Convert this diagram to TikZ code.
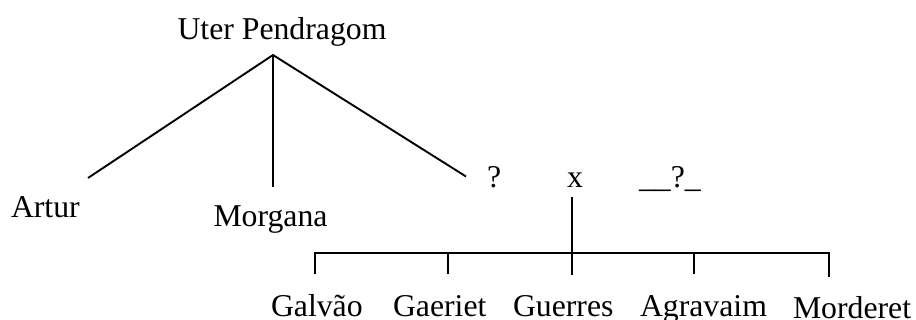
\documentclass[tikz,border=0pt]{standalone}
\usepackage{fontspec}
\setmainfont{Liberation Serif}
\begin{document}
\begin{tikzpicture}[x=1pt,y=-1pt,
  lbl/.style={anchor=base west,inner sep=0pt,outer sep=0pt,font=\fontsize{31.75}{38}\selectfont},
  link/.style={line width=1.9pt,line cap=butt,line join=miter}]
\useasboundingbox (0,0) rectangle (916,320);
% labels
\node[lbl] (uter) at (177.5,39.3) {Uter Pendragom};
\node[lbl] (artur) at (11,217.5) {Artur};
\node[lbl] (morgana) at (213.5,226.8) {Morgana};
\node[lbl] (q) at (487,188) {?};
\node[lbl] (x) at (567,188) {x};
\node[lbl] (q2) at (639,188) {\_\_?\_};
\node[lbl] (galvao) at (271,317) {Galvão};
\node[lbl] (gaeriet) at (393,317) {Gaeriet};
\node[lbl] (guerres) at (513,317) {Guerres};
\node[lbl] (agravaim) at (640,317) {Agravaim};
\node[lbl] (morderet) at (793,319) {Morderet};
% connector points
\coordinate (apex) at (273,55);
\coordinate (arturEnd) at (88,178);
\coordinate (morganaEnd) at (273,187);
\coordinate (qEnd) at (466,176.5);
\coordinate (xTop) at (572,197);
\coordinate (barL) at (315,253);
\coordinate (barR) at (829,253);
\coordinate (tGal) at (315,274);
\coordinate (tGae) at (448,274);
\coordinate (tGue) at (572,275);
\coordinate (tAgr) at (694,274);
\coordinate (tMor) at (829,277);
\coordinate (bGae) at (448,253);
\coordinate (bAgr) at (694,253);
% connectors
\draw[link] (arturEnd) -- (apex) -- (qEnd);
\draw[link] (apex) -- (morganaEnd);
\draw[link] (tGal) -- (barL) -- (barR) -- (tMor);
\draw[link] (xTop) -- (tGue);
\draw[link] (bGae) -- (tGae);
\draw[link] (bAgr) -- (tAgr);
\end{tikzpicture}
\end{document}
